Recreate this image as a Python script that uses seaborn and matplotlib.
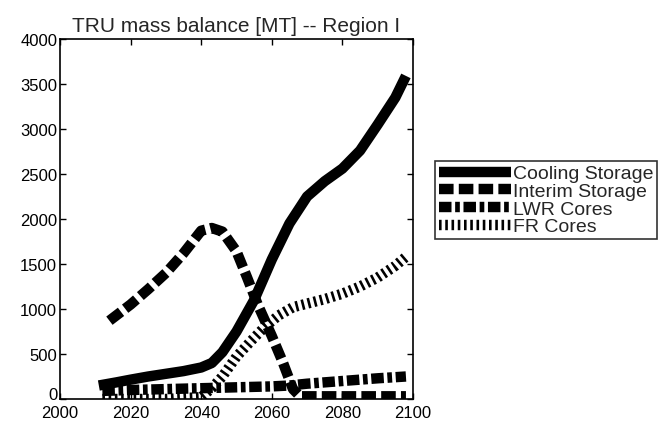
import pandas as pd
import matplotlib
matplotlib.use("Agg")
import matplotlib.pyplot as plt
import matplotlib.transforms as mtrans
import seaborn as sns

# data (years, MT)
cool_years = [2011, 2016, 2020, 2025, 2030, 2035, 2040, 2043, 2046, 2050, 2055, 2060,
              2065, 2070, 2075, 2080, 2085, 2090, 2095, 2098]
cool_vals = [150, 185, 215, 250, 280, 310, 350, 400, 520, 750, 1100, 1550,
             1950, 2250, 2420, 2560, 2760, 3050, 3350, 3590]

interim_years = [2014, 2017, 2020, 2025, 2030, 2035, 2040, 2043, 2046, 2050, 2053,
                 2056, 2060, 2063, 2066, 2068, 2080, 2098]
interim_vals = [870, 960, 1050, 1220, 1400, 1620, 1870, 1900, 1860, 1640, 1350,
                1050, 700, 420, 110, 30, 30, 30]

lwr_years = [2012, 2020, 2030, 2040, 2050, 2060, 2065, 2070, 2080, 2090, 2098]
lwr_vals = [90, 100, 110, 120, 130, 140, 150, 170, 200, 230, 250]

fr_years = [2012, 2030, 2040, 2043, 2046, 2050, 2054, 2058, 2062, 2066, 2070, 2075,
            2080, 2085, 2090, 2095, 2098]
fr_vals = [0, 0, 20, 120, 250, 470, 640, 800, 930, 1020, 1060, 1110,
           1170, 1250, 1350, 1480, 1580]

labels = ["Cooling Storage", "Interim Storage", "LWR Cores", "FR Cores"]

sns.set_style("ticks")
plt.rcParams['font.family'] = ['Liberation Sans', 'DejaVu Sans']

fig = plt.figure(figsize=(6.7, 4.27), dpi=100)
ax = fig.add_axes([60 / 670, 27 / 427, 353 / 670, 360 / 427])

lw = 7.5
series = [
    (cool_years, cool_vals, "-"),
    (interim_years, interim_vals, (0, (1.4, 0.5))),
    (lwr_years, lwr_vals, (0, (1.2, 0.35, 0.45, 0.35))),
    (fr_years, fr_vals, (0, (0.25, 0.35))),
]
for (yrs, vals, ls), lab in zip(series, labels):
    df = pd.DataFrame({"year": yrs, "mass": vals})
    sns.lineplot(data=df, x="year", y="mass", ax=ax, color="black", lw=lw,
                 linestyle=ls, label=lab, solid_capstyle="butt",
                 dash_capstyle="butt")

ax.set_xlim(2000, 2100)
ax.set_ylim(0, 4000)
ax.set_xticks(range(2000, 2101, 20))
ax.set_yticks(range(0, 4001, 500))
ax.set_xlabel("")
ax.set_ylabel("")
ax.tick_params(direction="in", top=True, right=True, labelsize=12,
               length=4, width=1, colors="black", pad=2)
ax.tick_params(axis="x", pad=4)
# nudge the "0" label up a little so it sits just above "2000"
ylab0 = ax.get_yticklabels()[0]
ylab0.set_transform(ylab0.get_transform() +
                    mtrans.ScaledTranslation(0, 6 / 100, fig.dpi_scale_trans))
for s in ax.spines.values():
    s.set_visible(True)
    s.set_linewidth(1.2)
    s.set_color("black")
ax.set_title("TRU mass balance [MT] -- Region I", fontsize=15, pad=6)

leg = ax.legend(loc="upper left", bbox_to_anchor=(435 / 670, 1 - 162 / 427),
                bbox_transform=fig.transFigure, frameon=True, fancybox=False,
                fontsize=14, handlelength=3.7, handletextpad=0.1,
                labelspacing=0.0, borderpad=0.2, borderaxespad=0)
leg.get_frame().set_edgecolor("black")
leg.get_frame().set_linewidth(1.2)

fig.savefig("out.png", dpi=100)
